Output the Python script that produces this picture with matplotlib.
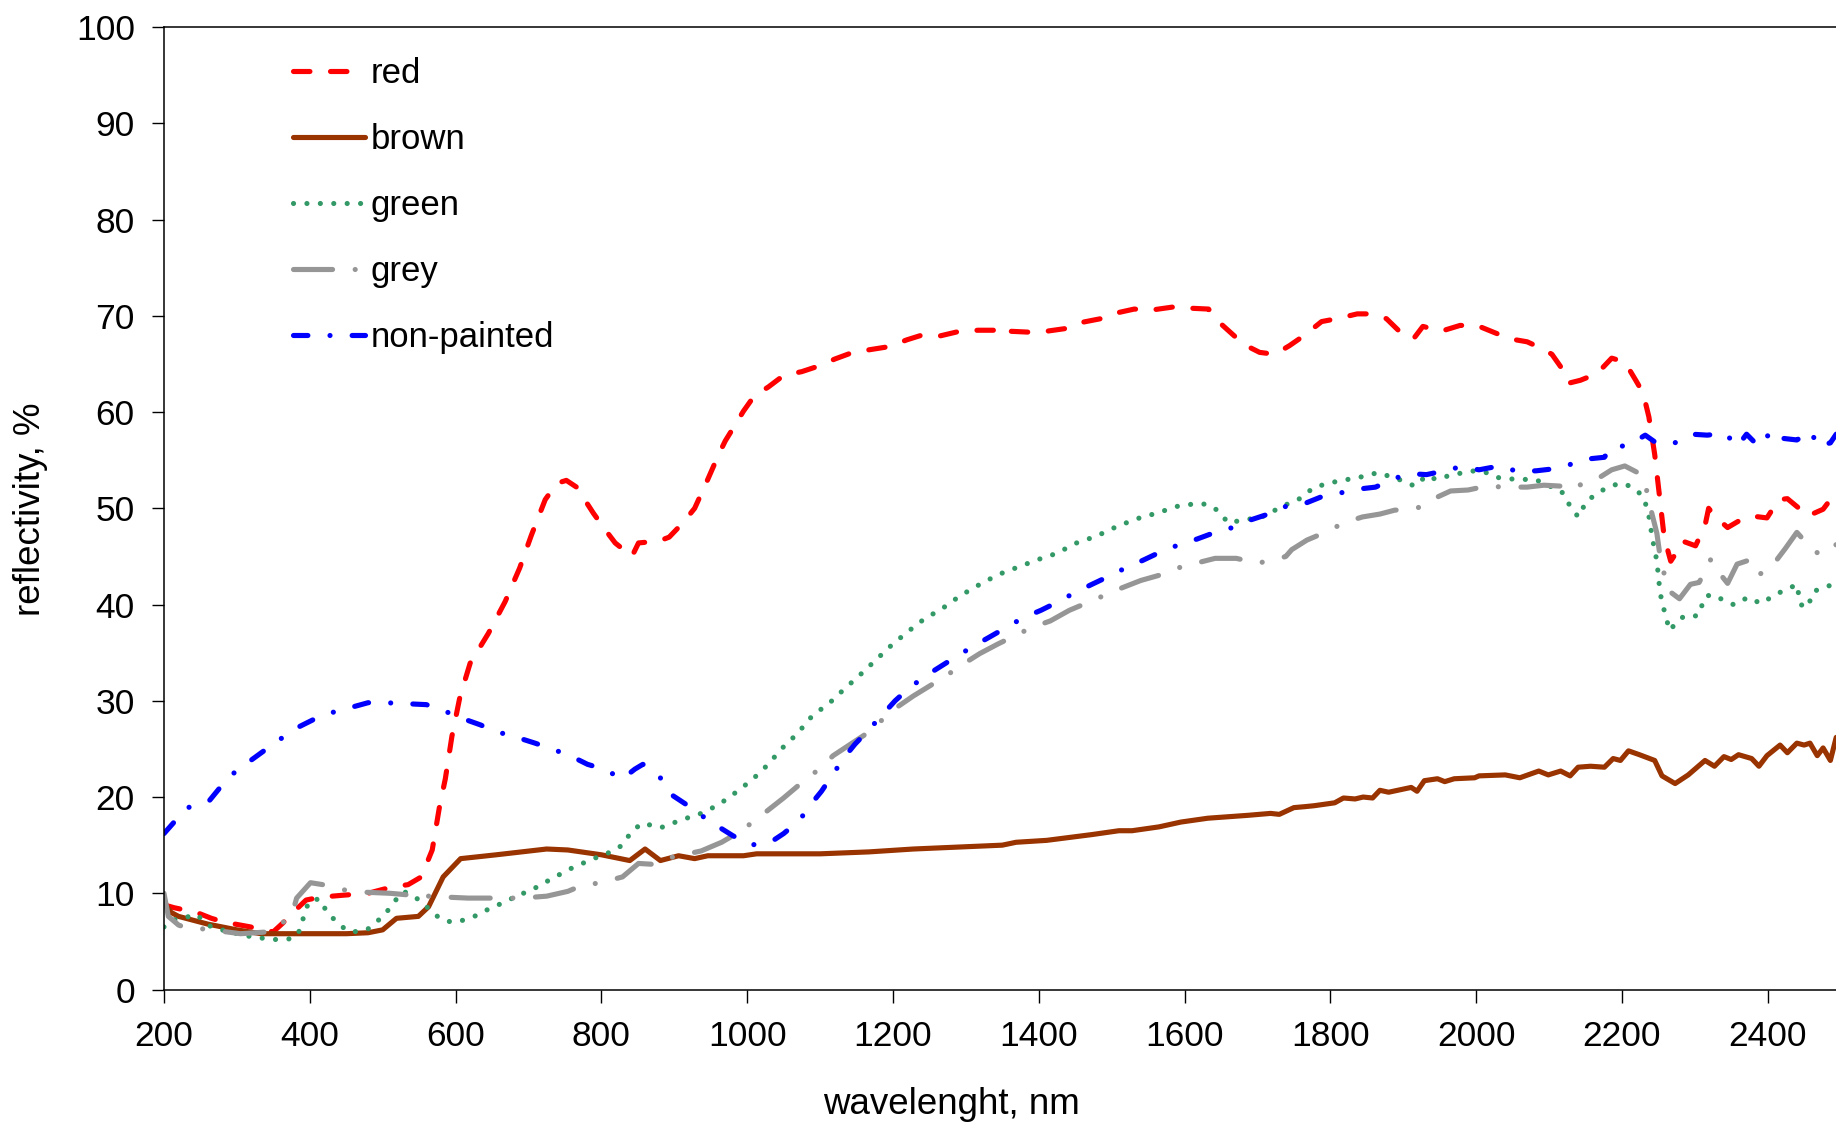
import matplotlib
matplotlib.use('Agg')
import matplotlib.pyplot as plt

plt.rcParams['font.family'] = ['Liberation Sans', 'DejaVu Sans']

# red
red_x = [200, 214, 245, 265, 283, 319, 333, 350, 363, 377, 395, 415, 446, 480, 510, 535, 553, 568, 578, 586,
         595, 606, 620, 645, 668, 688, 704, 723, 739, 752, 766, 789, 805, 819, 842, 851, 879, 893, 912, 928,
         946, 961, 970, 983, 995, 1010, 1029, 1050, 1075, 1099, 1120, 1145, 1170, 1195, 1219, 1240, 1264,
         1292, 1317, 1341, 1350, 1359, 1387, 1411, 1439, 1458, 1485, 1507, 1531, 1555, 1583, 1605, 1633,
         1645, 1667, 1682, 1703, 1724, 1744, 1765, 1788, 1809, 1837, 1855, 1877, 1896, 1914, 1927, 1952,
         1978, 2001, 2027, 2047, 2070, 2093, 2104, 2117, 2127, 2143, 2166, 2186, 2204, 2219, 2229, 2237,
         2245, 2252, 2258, 2267, 2273, 2283, 2301, 2314, 2319, 2327, 2345, 2363, 2378, 2399, 2415, 2427,
         2443, 2455, 2476, 2491, 2500]
red_y = [8.8, 8.5, 8.0, 7.4, 7.0, 6.5, 6.2, 6.0, 6.9, 8.0, 9.3, 9.6, 9.8, 10.0, 10.6, 10.9, 11.7, 14.5, 19.0, 21.9,
         26.3, 30.4, 33.9, 37.0, 40.3, 43.8, 47.2, 50.9, 52.6, 52.9, 52.2, 49.5, 47.8, 46.4, 45.0, 46.4, 46.6, 47.0, 48.5, 50.0,
         53.0, 55.6, 57.0, 58.6, 60.1, 61.7, 62.6, 63.8, 64.2, 64.8, 65.5, 66.2, 66.5, 66.8, 67.5, 68.0, 67.9,
         68.4, 68.5, 68.5, 68.0, 68.4, 68.3, 68.4, 68.7, 69.3, 69.7, 70.3, 70.7, 70.6, 70.9, 70.8, 70.7,
         69.5, 68.0, 67.0, 66.2, 66.0, 66.9, 68.0, 69.4, 69.7, 70.2, 70.2, 69.7, 68.3, 67.6, 68.9, 68.4,
         69.0, 69.0, 68.2, 67.6, 67.3, 66.5, 66.0, 64.6, 63.0, 63.3, 64.0, 65.6, 65.2, 63.3, 62.0, 59.5,
         55.6, 51.0, 47.0, 44.5, 45.2, 46.6, 46.1, 48.2, 50.0, 49.2, 48.0, 48.8, 49.2, 49.0, 50.9, 51.0,
         50.0, 49.2, 49.9, 51.4, 52.0]

# brown
brown_x = [200, 210, 220, 260, 300, 333, 400, 450, 480, 500, 519, 549, 563, 583, 607, 656, 725, 754, 800, 839,
           860, 881, 906, 928, 946, 995, 1013, 1100, 1167, 1228, 1289, 1350, 1369, 1411, 1473, 1510, 1528, 1565,
           1595, 1632, 1687, 1718, 1730, 1750, 1765, 1778, 1806, 1818, 1834, 1845, 1858, 1868, 1880, 1911,
           1919, 1929, 1947, 1957, 1970, 1998, 2004, 2040, 2060, 2086, 2099, 2116, 2129, 2140, 2157, 2176,
           2188, 2198, 2209, 2224, 2245, 2255, 2273, 2291, 2314, 2327, 2340, 2350, 2360, 2378, 2388, 2399,
           2417, 2427, 2440, 2450, 2458, 2468, 2476, 2486, 2494, 2500]
brown_y = [9.0, 8.0, 7.6, 6.8, 6.2, 5.8, 5.8, 5.8, 5.9, 6.2, 7.4, 7.6, 8.6, 11.7, 13.6, 14.0, 14.6, 14.5, 14.0, 13.4,
           14.6, 13.4, 13.9, 13.6, 13.9, 13.9, 14.1, 14.1, 14.3, 14.6, 14.8, 15.0, 15.3, 15.5, 16.1, 16.5, 16.5, 16.9,
           17.4, 17.8, 18.1, 18.3, 18.2, 18.9, 19.0, 19.1, 19.4, 19.9, 19.8, 20.0, 19.9, 20.7, 20.5, 21.0,
           20.6, 21.7, 21.9, 21.6, 21.9, 22.0, 22.2, 22.3, 22.0, 22.7, 22.3, 22.7, 22.2, 23.1, 23.2, 23.1,
           24.0, 23.8, 24.8, 24.4, 23.8, 22.2, 21.4, 22.3, 23.8, 23.2, 24.2, 23.9, 24.4, 24.0, 23.2, 24.3,
           25.4, 24.6, 25.6, 25.4, 25.6, 24.3, 25.1, 23.8, 26.2, 25.5]

# green
green_x = [200, 211, 225, 245, 253, 265, 289, 319, 348, 363, 377, 387, 394, 401, 414, 421, 429, 451, 466, 480,
           502, 519, 529, 553, 563, 573, 587, 602, 614, 629, 641, 656, 681, 708, 734, 759, 786, 813, 829, 842,
           857, 881, 909, 937, 961, 983, 1007, 1029, 1047, 1069, 1090, 1112, 1133, 1155, 1176, 1197, 1219,
           1243, 1268, 1292, 1317, 1344, 1372, 1400, 1424, 1452, 1479, 1507, 1534, 1562, 1590, 1617, 1632,
           1645, 1660, 1675, 1706, 1737, 1758, 1778, 1809, 1839, 1865, 1891, 1916, 1932, 1945, 1968, 1998,
           2011, 2029, 2055, 2081, 2101, 2117, 2124, 2140, 2152, 2176, 2188, 2201, 2214, 2227, 2232, 2237,
           2242, 2248, 2252, 2255, 2261, 2265, 2281, 2291, 2304, 2315, 2327, 2340, 2353, 2363, 2378, 2389,
           2404, 2415, 2430, 2440, 2445, 2455, 2462, 2473, 2491, 2500]
green_y = [6.5, 7.2, 7.4, 7.8, 7.2, 6.5, 6.0, 5.5, 5.2, 5.2, 5.3, 6.2, 8.3, 9.3, 9.4, 8.4, 7.6, 6.1, 6.0, 6.3,
           7.7, 9.4, 10.2, 9.2, 8.4, 7.7, 7.1, 7.0, 7.3, 7.7, 8.2, 8.7, 9.6, 10.5, 11.6, 12.6, 13.5, 14.3, 15.0, 16.5,
           17.3, 16.8, 17.6, 18.3, 19.2, 20.4, 21.8, 23.4, 25.0, 26.6, 28.5, 29.7, 31.2, 32.7, 34.2, 35.7, 37.1,
           38.5, 39.6, 40.9, 42.0, 43.1, 43.9, 44.7, 45.3, 46.4, 47.1, 48.1, 48.9, 49.5, 50.2, 50.5, 50.4,
           49.8, 48.5, 48.7, 49.1, 50.3, 51.0, 52.2, 52.8, 53.2, 53.7, 53.1, 52.3, 53.4, 53.0, 53.5, 53.9,
           53.8, 53.2, 53.0, 53.0, 52.3, 51.8, 50.8, 49.1, 50.8, 52.0, 52.4, 52.6, 52.2, 51.4, 50.6, 49.2,
           46.8, 44.5, 41.5, 40.2, 38.6, 37.3, 38.6, 38.9, 38.8, 40.9, 41.0, 40.4, 40.0, 40.5, 40.7, 40.1,
           40.7, 41.2, 41.7, 42.1, 40.0, 39.7, 41.3, 41.7, 42.1, 42.3]

# grey
grey_x = [200, 206, 220, 235, 255, 305, 345, 375, 382, 401, 426, 450, 479, 510, 540, 588, 617, 640, 690, 725,
          754, 773, 799, 829, 851, 873, 894, 937, 965, 990, 1013, 1050, 1075, 1097, 1118, 1160, 1182, 1203,
          1228, 1271, 1294, 1319, 1344, 1390, 1416, 1442, 1467, 1513, 1540, 1568, 1595, 1642, 1671, 1700,
          1727, 1739, 1747, 1768, 1793, 1819, 1844, 1868, 1888, 1919, 1942, 1965, 1989, 2014, 2040, 2070,
          2093, 2117, 2129, 2137, 2163, 2186, 2204, 2227, 2235, 2241, 2248, 2252, 2263, 2279, 2294, 2306,
          2322, 2327, 2345, 2358, 2378, 2390, 2403, 2424, 2440, 2458, 2471, 2486, 2500]
grey_y = [10.0, 7.6, 6.7, 6.3, 6.3, 5.8, 6.0, 7.6, 9.5, 11.1, 10.8, 10.3, 10.1, 10.0, 9.8, 9.6, 9.5, 9.5, 9.5, 9.7,
          10.2, 10.8, 11.1, 11.7, 13.1, 13.0, 13.7, 14.4, 15.3, 16.4, 17.7, 19.9, 21.5, 22.8, 24.3, 26.4, 27.8, 29.2,
          30.5, 32.5, 33.7, 34.9, 35.9, 37.6, 38.3, 39.4, 40.2, 41.7, 42.5, 43.1, 43.9, 44.8, 44.8, 44.3,
          44.7, 45.0, 45.7, 46.7, 47.5, 48.5, 49.1, 49.4, 49.8, 50.0, 51.0, 51.8, 51.9, 52.3, 52.2, 52.2,
          52.4, 52.3, 51.9, 52.3, 52.9, 54.0, 54.4, 53.5, 51.6, 49.5, 47.4, 45.2, 41.5, 40.6, 42.1, 42.3,
          44.7, 43.9, 42.2, 44.2, 44.7, 43.2, 43.7, 45.8, 47.5, 46.0, 45.2, 46.1, 46.3]

# non-painted
blue_x = [200, 221, 233, 262, 289, 319, 348, 380, 417, 456, 480, 504, 532, 560, 583, 608, 634, 656, 684, 709,
          732, 757, 781, 803, 829, 846, 857, 880, 897, 915, 937, 961, 980, 1004, 1032, 1050, 1072, 1087, 1102,
          1118, 1133, 1148, 1167, 1185, 1203, 1222, 1243, 1264, 1287, 1311, 1332, 1355, 1378, 1403, 1427,
          1451, 1473, 1498, 1519, 1543, 1568, 1592, 1617, 1642, 1666, 1691, 1715, 1742, 1765, 1788, 1814,
          1839, 1862, 1888, 1909, 1932, 1957, 1978, 2004, 2032, 2058, 2083, 2106, 2127, 2150, 2176, 2186,
          2208, 2232, 2247, 2270, 2296, 2317, 2342, 2358, 2371, 2388, 2406, 2417, 2440, 2460, 2468, 2486,
          2494, 2500]
blue_y = [16.2, 18.0, 18.9, 19.6, 22.1, 23.8, 25.4, 27.1, 28.5, 29.3, 29.8, 29.8, 29.7, 29.6, 29.0, 28.2, 27.5, 26.8, 26.2, 25.6,
          25.0, 24.3, 23.4, 22.9, 21.9, 22.9, 23.4, 22.1, 20.2, 19.3, 18.1, 16.9, 16.0, 15.0, 15.3, 16.2, 17.6, 19.2, 20.6,
          22.4, 24.1, 25.5, 27.0, 28.5, 30.0, 31.3, 32.5, 33.5, 34.6, 35.7, 36.6, 37.6, 38.6, 39.4, 40.3,
          41.3, 42.1, 43.0, 43.8, 44.6, 45.5, 46.2, 46.8, 47.5, 48.0, 48.8, 49.4, 50.3, 50.5, 51.2, 51.6,
          52.0, 52.2, 53.1, 53.6, 53.5, 53.9, 54.3, 54.0, 54.4, 53.8, 53.9, 54.1, 54.5, 55.1, 55.3, 56.4,
          56.5, 57.6, 56.8, 56.7, 57.7, 57.6, 57.8, 56.4, 57.7, 56.4, 58.1, 57.3, 57.1, 58.0, 56.4, 56.8,
          57.7, 57.5]

fig = plt.figure(figsize=(18.36, 11.37), dpi=100)
ax = fig.add_axes([0.0893, 0.1297, 0.9132, 0.8465])

lw = 3.7
ax.plot(red_x, red_y, color='#FF0000', lw=lw, linestyle=(0, (3.2, 4.0)),
        dash_capstyle='round', solid_joinstyle='round', label='red')
ax.plot(brown_x, brown_y, color='#993300', lw=lw, solid_capstyle='round',
        solid_joinstyle='round', label='brown')
ax.plot(green_x, green_y, color='#339966', lw=lw, linestyle=(0, (0.01, 2.6)),
        dash_capstyle='round', label='green')
ax.plot(grey_x, grey_y, color='#969696', lw=lw, linestyle=(0, (7.6, 4.4, 0.01, 4.4)),
        dash_capstyle='round', label='grey')
ax.plot(blue_x, blue_y, color='#0000FF', lw=lw, linestyle=(0, (2.8, 4.3, 0.01, 4.3)),
        dash_capstyle='round', label='non-painted')

ax.set_xlim(200, 2500)
ax.set_ylim(0, 100)
ax.set_xticks(range(200, 2401, 200))
ax.set_yticks(range(0, 101, 10))
ax.tick_params(axis='both', labelsize=25.5, length=9, width=1, direction='out')
ax.tick_params(axis='x', pad=13)
ax.tick_params(axis='y', pad=12)
ax.spines['right'].set_visible(False)
for s in ['left', 'bottom', 'top']:
    ax.spines[s].set_linewidth(1.1)

fig.text(0.518, 0.029, 'wavelenght, nm', fontsize=26.5, ha='center', va='center')
fig.text(0.0165, 0.552, 'reflectivity, %', fontsize=26.5, ha='center', va='center', rotation=90)

ax.legend(loc='upper left', bbox_to_anchor=(0.1596, 0.9500), bbox_transform=fig.transFigure,
          frameon=False, fontsize=25, handlelength=2.07, handletextpad=0.17,
          labelspacing=0.95, borderpad=0, borderaxespad=0)

fig.savefig('out.png', dpi=100)
